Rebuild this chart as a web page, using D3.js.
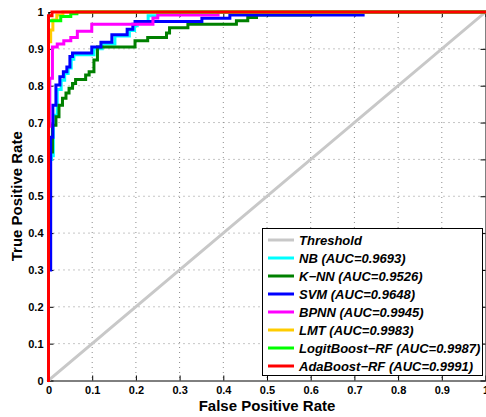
<!DOCTYPE html>
<html>
<head>
<meta charset="utf-8">
<script src="https://cdn.jsdelivr.net/npm/d3@7"></script>
<style>
  html, body { margin: 0; padding: 0; background: #fff; }
  svg { display: block; }
  text { font-family: "Liberation Sans", Arial, sans-serif; font-weight: bold; }
</style>
</head>
<body>
<svg id="chart" width="486" height="417"></svg>
<script>
// ROC curves of the classifiers, stored as [false positive rate, true positive rate]
// corner points; each curve is drawn as a step (horizontal run, then vertical jump).
const thresholdPoints = [[0, 0], [1, 1]];

const nbPoints = [[0,0],[0,0.6],[0.007,0.61],[0.011,0.72],[0.02,0.79],[0.029,0.815],[0.037,0.833],
  [0.045,0.848],[0.052,0.872],[0.058,0.884],[0.104,0.9],[0.123,0.913],[0.152,0.935],[0.185,0.95],
  [0.197,0.963],[0.203,0.973],[0.228,0.99],[0.25,1],[1,1]];

const knnPoints = [[0,0],[0,0.62],[0.009,0.693],[0.017,0.716],[0.024,0.747],[0.032,0.766],[0.04,0.78],
  [0.047,0.793],[0.055,0.806],[0.062,0.817],[0.085,0.829],[0.093,0.838],[0.104,0.87],[0.112,0.905],
  [0.198,0.922],[0.227,0.931],[0.27,0.943],[0.277,0.957],[0.319,0.967],[0.43,0.976],[0.456,0.985],
  [0.476,0.992],[0.6,1],[1,1]];

const svmPoints = [[0,0],[0,0.3],[0.005,0.66],[0.01,0.747],[0.017,0.802],[0.026,0.824],[0.034,0.838],
  [0.042,0.851],[0.049,0.879],[0.055,0.889],[0.099,0.905],[0.12,0.918],[0.145,0.938],[0.18,0.953],
  [0.193,0.967],[0.198,0.974],[0.351,0.983],[0.415,0.992],[0.72,1],[1,1]];

const bpnnPoints = [[0,0],[0,0.69],[0.003,0.82],[0.009,0.905],[0.02,0.913],[0.035,0.922],[0.051,0.931],
  [0.066,0.948],[0.099,0.967],[0.239,0.984],[0.25,0.992],[0.388,1],[1,1]];

const lmtPoints = [[0,0],[0,0.919],[0.005,0.951],[0.01,0.978],[0.019,0.992],[0.033,1],[1,1]];

const logitPoints = [[0,0],[0,0.976],[0.028,0.988],[0.051,0.995],[0.065,1],[1,1]];

const adaPoints = [[0,0],[0,0.99],[0.008,1],[1,1]];

// Legend entries, in drawing order
const seriesNames = ["Threshold", "NB", "K\u2212NN", "SVM", "BPNN", "LMT", "LogitBoost\u2212RF", "AdaBoost\u2212RF"];
const aucValues = [null, 0.9693, 0.9526, 0.9648, 0.9945, 0.9983, 0.9987, 0.9991];
const seriesPoints = [thresholdPoints, nbPoints, knnPoints, svmPoints, bpnnPoints, lmtPoints, logitPoints, adaPoints];
const seriesColors = ["#c8c8c8", "#00ffff", "#008000", "#0000ff", "#ff00ff", "#ffcc00", "#00ff00", "#ff0000"];

const tickValues = [0, 0.1, 0.2, 0.3, 0.4, 0.5, 0.6, 0.7, 0.8, 0.9, 1];
const tickLabels = ["0", "0.1", "0.2", "0.3", "0.4", "0.5", "0.6", "0.7", "0.8", "0.9", "1"];

const svg = d3.select("#chart");
const plotLeft = 48.5, plotRight = 485.5, plotTop = 12, plotBottom = 380.5;

const x = d3.scaleLinear().domain([0, 1]).range([plotLeft, plotRight]);
const y = d3.scaleLinear().domain([0, 1]).range([plotBottom, plotTop]);

// dotted grid
const grid = svg.append("g").attr("stroke", "#8c8c8c").attr("stroke-width", 1)
  .attr("stroke-dasharray", "1,4");
tickValues.filter(v => v > 0 && v < 1).forEach(v => {
  grid.append("line").attr("x1", x(v)).attr("x2", x(v)).attr("y1", plotTop).attr("y2", plotBottom);
  grid.append("line").attr("x1", plotLeft).attr("x2", plotRight).attr("y1", y(v)).attr("y2", y(v));
});

// axes with inward ticks on all four sides
const fmt = (d, i) => tickLabels[i];
function styleAxis(g) {
  g.selectAll("path.domain").attr("stroke", "#000").attr("stroke-width", 1);
  g.selectAll(".tick line").attr("stroke", "#000");
  g.selectAll(".tick text").attr("font-size", "11px").attr("font-weight", "bold")
    .attr("font-family", "'Liberation Sans', Arial, sans-serif").attr("fill", "#000");
}
svg.append("g").attr("transform", `translate(0,${plotBottom})`)
  .call(d3.axisBottom(x).tickValues(tickValues).tickFormat(fmt).tickSizeInner(-5).tickSizeOuter(0).tickPadding(6))
  .call(styleAxis);
svg.append("g").attr("transform", `translate(0,${plotTop})`)
  .call(d3.axisTop(x).tickValues(tickValues).tickFormat("").tickSizeInner(-5).tickSizeOuter(0))
  .call(styleAxis);
svg.append("g").attr("transform", `translate(${plotLeft},0)`)
  .call(d3.axisLeft(y).tickValues(tickValues).tickFormat(fmt).tickSizeInner(-5).tickSizeOuter(0).tickPadding(5))
  .call(styleAxis);
svg.append("g").attr("transform", `translate(${plotRight},0)`)
  .call(d3.axisRight(y).tickValues(tickValues).tickFormat("").tickSizeInner(-5).tickSizeOuter(0))
  .call(styleAxis);

// curves
const stepLine = d3.line().x(d => x(d[0])).y(d => y(d[1])).curve(d3.curveStepAfter);
const straightLine = d3.line().x(d => x(d[0])).y(d => y(d[1]));
seriesPoints.forEach((pts, i) => {
  svg.append("path")
    .attr("d", i === 0 ? straightLine(pts) : stepLine(pts))
    .attr("fill", "none")
    .attr("stroke", seriesColors[i])
    .attr("stroke-width", 3)
    .attr("stroke-linejoin", "miter")
    .attr("stroke-linecap", "square");
});

// legend
const legend = svg.append("g");
legend.append("rect").attr("x", 262.5).attr("y", 228.5).attr("width", 220).attr("height", 147)
  .attr("fill", "#fff").attr("stroke", "#000").attr("stroke-width", 1);
seriesNames.forEach((name, i) => {
  const ly = 240 + i * 18;
  legend.append("line").attr("x1", 268).attr("x2", 294).attr("y1", ly).attr("y2", ly)
    .attr("stroke", seriesColors[i]).attr("stroke-width", 3);
  legend.append("text").attr("x", 299).attr("y", ly).attr("dy", "0.36em")
    .attr("font-size", "13px").attr("font-style", "italic")
    .text(aucValues[i] === null ? name : `${name} (AUC=${aucValues[i].toFixed(4)})`);
});

// axis titles
svg.append("text").attr("x", (plotLeft + plotRight) / 2).attr("y", 411).attr("text-anchor", "middle")
  .attr("font-size", "15px").text("False Positive Rate");
svg.append("text").attr("transform", `translate(22,${(plotTop + plotBottom) / 2}) rotate(-90)`)
  .attr("text-anchor", "middle").attr("font-size", "15px").text("True Positive Rate");
</script>
</body>
</html>
